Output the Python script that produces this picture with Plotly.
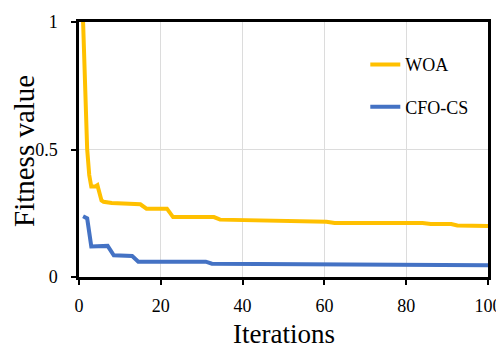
import plotly.graph_objects as go

woa_iter = [1, 1.5, 2, 2.5, 3, 4, 4.5, 5.5, 6, 8, 15, 16.5, 21.5, 23, 33, 34.5, 42, 49, 60.5, 62.5, 84, 86, 91, 92.5, 100]
woa_fit = [1.0, 0.75, 0.5, 0.40, 0.355, 0.355, 0.36, 0.30, 0.295, 0.29, 0.285, 0.268, 0.268, 0.235, 0.235, 0.225, 0.222, 0.218, 0.217, 0.212, 0.212, 0.208, 0.208, 0.202, 0.2]

cfo_iter = [1, 2, 3, 7, 8.5, 13, 14.5, 31, 32.5, 83, 85, 100]
cfo_fit = [0.238, 0.23, 0.12, 0.122, 0.085, 0.082, 0.06, 0.06, 0.052, 0.05, 0.047, 0.046]

x_ticks = [0, 20, 40, 60, 80, 100]
y_ticks = [0, 0.5, 1]

x_title = "Iterations"
y_title = "Fitness value"

font = "Liberation Serif, Times New Roman, serif"

fig = go.Figure()
fig.add_trace(go.Scatter(x=woa_iter, y=woa_fit, mode="lines", name="WOA",
                         line=dict(color="#FFC000", width=4), legendgroup="a"))
fig.add_trace(go.Scatter(x=cfo_iter, y=cfo_fit, mode="lines", name="CFO-CS",
                         line=dict(color="#4472C4", width=4), legendgroup="b"))

axis_common = dict(showline=True, linecolor="black", linewidth=2.5, mirror=True,
                   ticks="outside", ticklen=5, tickwidth=2, tickcolor="black",
                   showgrid=True, gridcolor="#dcdcdc", gridwidth=1, zeroline=False,
                   automargin=False,
                   tickfont=dict(family=font, size=18, color="black"))

# the page body has an 8px margin, so the figure is drawn at (8, 8)
fig.update_layout(
    width=496, height=341,
    margin=dict(l=71, r=16, t=14, b=72),
    paper_bgcolor="white", plot_bgcolor="white",
    font=dict(family=font, color="black"),
    xaxis=dict(range=[0, 100], tickvals=x_ticks, ticklabelstandoff=6, **axis_common),
    yaxis=dict(range=[0, 1], tickvals=y_ticks, ticklabelstandoff=10, **axis_common),
    legend=dict(x=0.700, y=0.905, xanchor="left", yanchor="top", bgcolor="rgba(0,0,0,0)",
                font=dict(family=font, size=18, color="black"), tracegroupgap=16,
                itemwidth=30),
    showlegend=True,
    annotations=[
        dict(text=x_title, xref="paper", yref="paper", x=0.5, y=0,
             xanchor="center", yanchor="middle", yshift=-57, showarrow=False,
             font=dict(family=font, size=27, color="black")),
        dict(text=y_title, xref="paper", yref="paper", x=0, y=0.5, textangle=-90,
             xanchor="center", yanchor="middle", xshift=-55, yshift=-1.5, showarrow=False,
             font=dict(family=font, size=29, color="black")),
    ],
)

fig.write_html("out.html")
